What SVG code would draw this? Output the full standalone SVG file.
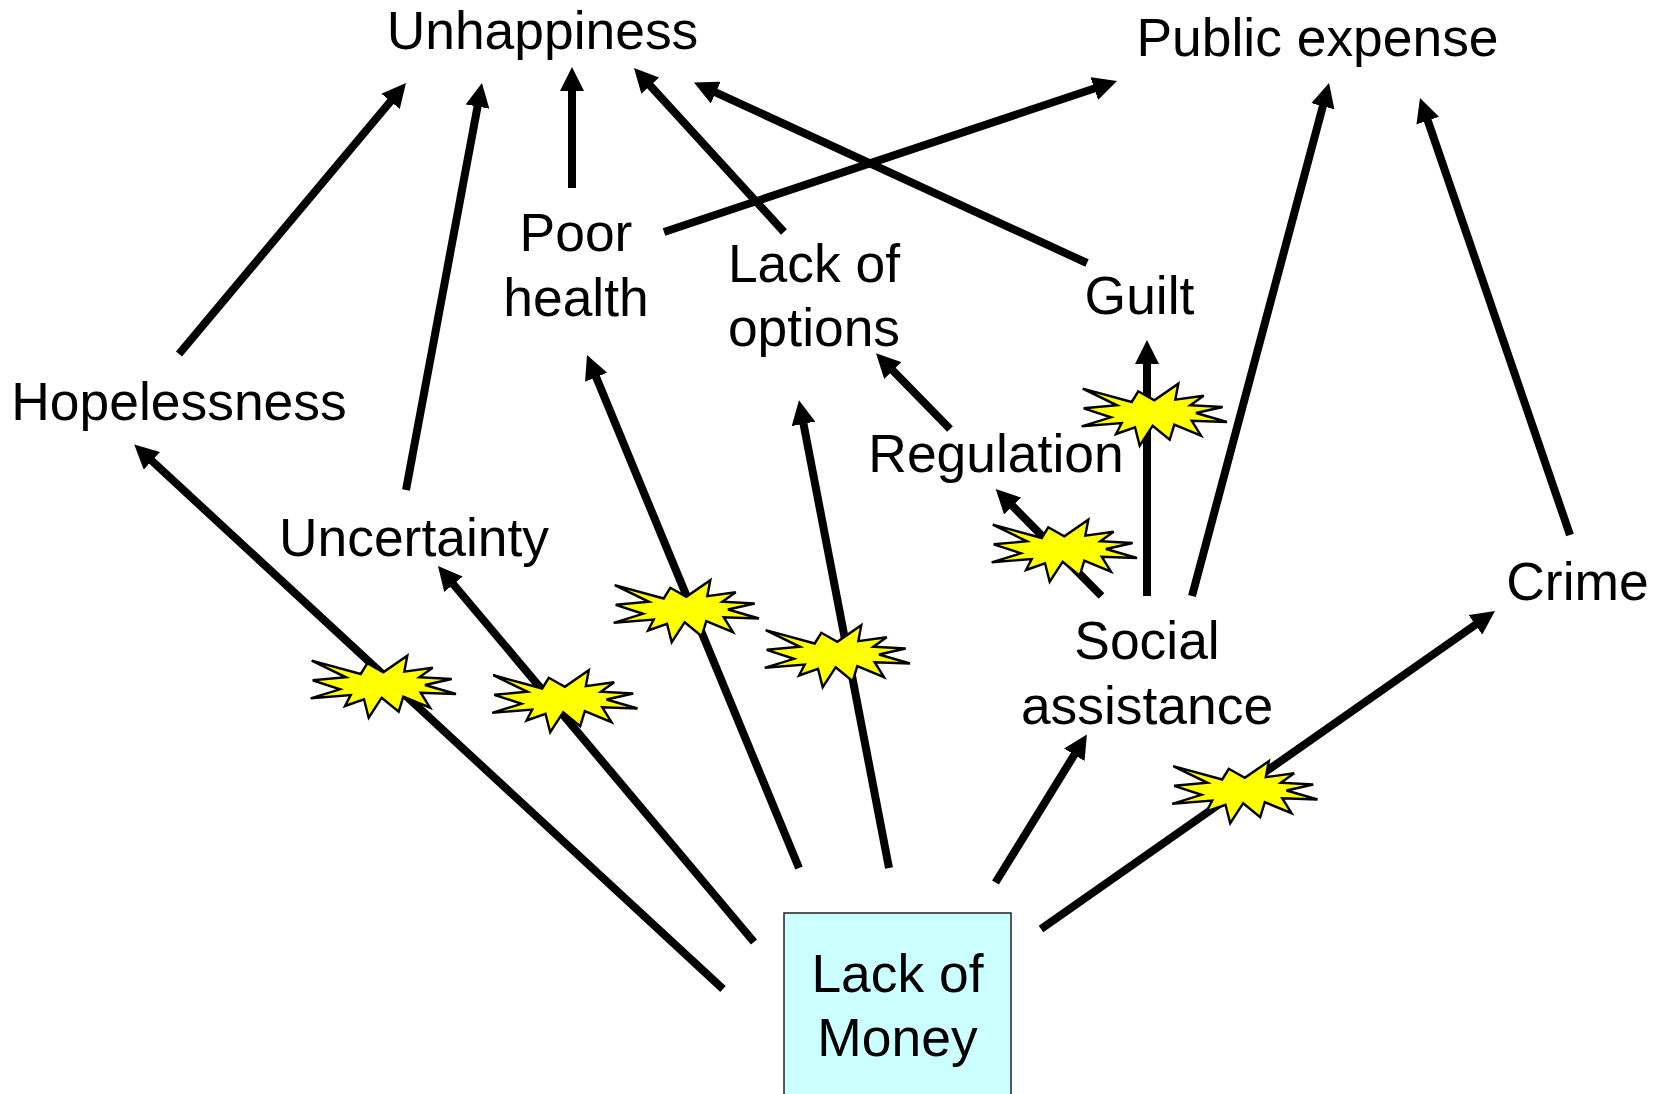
<svg xmlns="http://www.w3.org/2000/svg" width="1662" height="1094" viewBox="0 0 1662 1094">
<style>
text{font-family:"Liberation Sans",Arial,sans-serif;font-size:53.4px;fill:#000;text-anchor:middle}
.c line{stroke:#000;stroke-width:8;marker-end:url(#ah)}
.star{fill:#ff0;stroke:#000;stroke-width:2.4}
</style>
<defs>
<marker id="ah" markerUnits="userSpaceOnUse" markerWidth="24" markerHeight="24" viewBox="0 0 24 24" refX="8" refY="12" orient="auto"><polygon points="0,0 24,12 0,24" fill="#000"/></marker>
<polygon id="burst" class="star" points="311.7,660.7 360.7,674 367.3,663.3 383.3,672.3 407.3,655.7 404.3,671.7 432.7,667.7 419.3,677.3 451.7,679 425,685 456,694 420.7,692.7 430,707.7 403.3,696.7 398.7,711.7 381.7,697.7 368.7,717.7 364,699.3 345,706 350.7,695 310.7,698.3 340,689.3 312.7,680.3 346,677.3"/>
</defs>
<rect width="1662" height="1094" fill="#fff"/>
<g id="connectors" class="c">
<line x1="179" y1="354" x2="395.7" y2="95.2"/>
<line x1="406" y1="490" x2="479" y2="98.7"/>
<line x1="572" y1="188" x2="572" y2="83"/>
<line x1="664" y1="232" x2="1101.8" y2="86"/>
<line x1="784" y1="232" x2="644.8" y2="79.8"/>
<line x1="1087" y1="263" x2="708.5" y2="89.2"/>
<line x1="1192" y1="596" x2="1324.9" y2="98.5"/>
<line x1="1570" y1="535" x2="1425.2" y2="113.1"/>
<line x1="723" y1="989" x2="146" y2="455.4"/>
<line x1="754" y1="942" x2="448.3" y2="578.2"/>
<line x1="799" y1="868" x2="593.1" y2="369.8"/>
<line x1="889" y1="868" x2="802" y2="416"/>
<line x1="995.5" y1="882.5" x2="1078.5" y2="748"/>
<line x1="1041" y1="929" x2="1481.9" y2="620.2"/>
<line x1="1101.5" y1="596" x2="1007" y2="500.4"/>
<line x1="950" y1="429" x2="887.2" y2="364.8"/>
<line x1="1147" y1="596" x2="1147" y2="356"/>
</g>
<g id="bursts">
<use href="#burst"/>
<use href="#burst" x="181.5" y="14.5"/>
<use href="#burst" x="303" y="-75.5"/>
<use href="#burst" x="454" y="-30.5"/>
<use href="#burst" x="681" y="-136"/>
<use href="#burst" x="771" y="-272"/>
<use href="#burst" x="861.5" y="105.5"/>
</g>
<g id="lack-of-money"><rect x="784" y="913" width="227" height="190" fill="#ccffff" stroke="#222" stroke-width="1.5"/><text x="897.5" y="992">Lack of</text><text x="897.5" y="1056">Money</text></g>
<g id="unhappiness"><text x="542.5" y="49">Unhappiness</text></g>
<g id="public-expense"><text x="1317.5" y="56">Public expense</text></g>
<g id="poor-health"><text x="576" y="250.5">Poor</text><text x="576" y="315.5">health</text></g>
<g id="lack-of-options"><text x="814" y="281.5">Lack of</text><text x="814" y="345.5">options</text></g>
<g id="guilt"><text x="1139.5" y="313.5">Guilt</text></g>
<g id="hopelessness"><text x="179" y="419.5">Hopelessness</text></g>
<g id="regulation"><text x="996" y="472">Regulation</text></g>
<g id="uncertainty"><text x="414" y="556">Uncertainty</text></g>
<g id="social-assistance"><text x="1147" y="659">Social</text><text x="1147" y="723.5">assistance</text></g>
<g id="crime"><text x="1577.5" y="600">Crime</text></g>
</svg>
